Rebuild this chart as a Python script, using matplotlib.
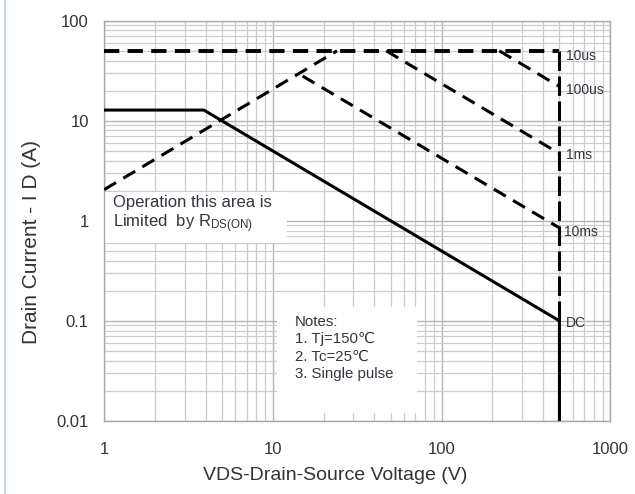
import matplotlib
matplotlib.use("Agg")
import matplotlib.pyplot as plt
from matplotlib.lines import Line2D
from matplotlib.patches import Rectangle
from matplotlib.ticker import LogLocator, FixedLocator, FixedFormatter, NullFormatter

plt.rcParams['font.family'] = ['Liberation Sans', 'DejaVu Sans']
plt.rcParams['mathtext.fontset'] = 'custom'
plt.rcParams['mathtext.rm'] = 'Liberation Sans'
plt.rcParams['mathtext.it'] = 'Liberation Sans'
plt.rcParams['lines.scale_dashes'] = False

# ---- data ----
dc_v = [1, 3.9, 500, 500]
dc_i = [12.8, 12.8, 0.1, 0.01]
rds_v = [1, 24]
rds_i = [2.05, 50]
lim_v = [1, 500]
lim_i = [50, 50]
us100_v = [220, 500]
us100_i = [50, 22]
ms1_v = [47, 500]
ms1_i = [50, 4.7]
ms10_v = [15, 500]
ms10_i = [28, 0.85]
vmax_v = [500, 500]
vmax_i = [50, 0.1]

curve_labels = ["10us", "100us", "1ms", "10ms", "DC"]
label_v = [545, 545, 545, 535, 545]
label_i = [44, 20.5, 4.6, 0.78, 0.096]

x_ticks = [1, 10, 100, 1000]
x_ticklabels = ["1", "10", "100", "1000"]
y_ticks = [0.01, 0.1, 1, 10, 100]
y_ticklabels = ["0.01", "0.1", "1", "10", "100"]

fig = plt.figure(figsize=(6.35, 4.94), dpi=100)
ax = fig.add_axes([0.164, 0.148, 0.797, 0.81])
ax.set_xscale('log')
ax.set_yscale('log')
ax.set_xlim(1, 1000)
ax.set_ylim(0.01, 100)

ax.xaxis.set_major_locator(FixedLocator(x_ticks))
ax.xaxis.set_major_formatter(FixedFormatter(x_ticklabels))
ax.yaxis.set_major_locator(FixedLocator(y_ticks))
ax.yaxis.set_major_formatter(FixedFormatter(y_ticklabels))
ax.xaxis.set_minor_locator(LogLocator(base=10, subs=range(2, 10)))
ax.yaxis.set_minor_locator(LogLocator(base=10, subs=range(2, 10)))
ax.xaxis.set_minor_formatter(NullFormatter())
ax.yaxis.set_minor_formatter(NullFormatter())
ax.grid(True, which='major', color='#b4b4b4', lw=1.0)
ax.grid(True, which='minor', color='#cccccc', lw=0.9)
ax.set_axisbelow(True)
ax.tick_params(which='both', length=0, labelsize=12, colors='#333333')
ax.tick_params(axis='x', pad=15)
ax.tick_params(axis='y', pad=11)
for s in ax.spines.values():
    s.set_color('#a8a8a8')
    s.set_linewidth(1.0)

# white label boxes covering the grid
ax.add_patch(Rectangle((0.0, 0.445), 0.361, 0.1275, transform=ax.transAxes,
                       fc='white', ec='none', zorder=2))
ax.add_patch(Rectangle((0.341, 0.02), 0.278, 0.265, transform=ax.transAxes,
                       fc='white', ec='none', zorder=2))

k = '#000000'
ax.plot(lim_v, lim_i, color=k, lw=2.8, dashes=(11, 6), zorder=4)
ax.plot(rds_v, rds_i, color=k, lw=2.2, dashes=(10, 6), zorder=4)
ax.plot(us100_v, us100_i, color=k, lw=2.2, dashes=(10, 6), zorder=4)
ax.plot(ms1_v, ms1_i, color=k, lw=2.2, dashes=(10, 6), zorder=4)
ax.plot(ms10_v, ms10_i, color=k, lw=2.2, dashes=(10, 6), zorder=4)
ax.plot(vmax_v, vmax_i, color=k, lw=2.2, dashes=(14, 4), zorder=4)
ax.plot(dc_v, dc_i, color=k, lw=2.2, zorder=5)

for t, xv, yv in zip(curve_labels, label_v, label_i):
    ax.text(xv, yv, t, fontsize=10, color='#333344', va='center', ha='left', zorder=6)

ax.text(0.018, 0.565, "Operation this area is\nLimited  by R$_{\\mathrm{DS(ON)}}$",
        transform=ax.transAxes, fontsize=12, color='#333344', va='top', ha='left',
        linespacing=1.2, zorder=6)

ax.text(0.377, 0.265, "Notes:\n1. Tj=150\u2103\n2. Tc=25\u2103\n3. Single pulse",
        transform=ax.transAxes, fontsize=10.8, color='#333344', va='top', ha='left',
        linespacing=1.3, zorder=6)

ax.set_xlabel("VDS-Drain-Source Voltage (V)", fontsize=14, color='#333333')
ax.set_ylabel("Drain Current - I D (A)", fontsize=15, color='#333333')
ax.xaxis.set_label_coords(0.456, -0.115)
ax.yaxis.set_label_coords(-0.125, 0.4475)

fig.add_artist(Line2D([0.008, 0.008], [0.0, 1.0], transform=fig.transFigure,
                      color='#c8d4ec', lw=1.5))

fig.savefig("out.png", dpi=100, facecolor='white')
